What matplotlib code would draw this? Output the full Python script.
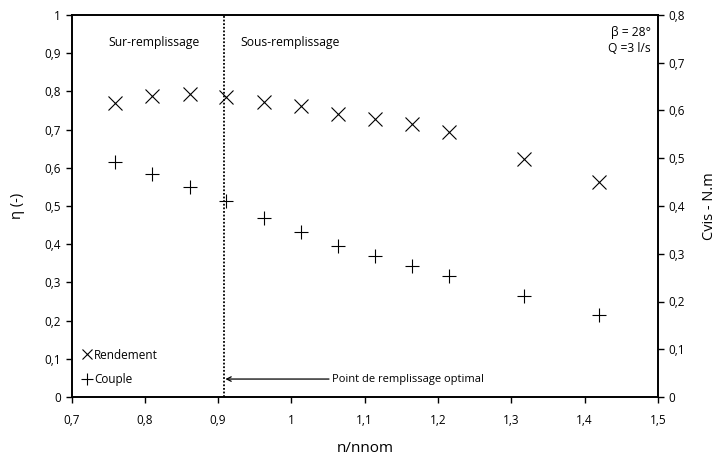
import numpy as np
import matplotlib.pyplot as plt
from matplotlib.ticker import FuncFormatter

plt.rcParams['font.family'] = ['Open Sans', 'DejaVu Sans']

# n/nnom values and measured efficiency / viscous torque
n_ratio = [0.760, 0.810, 0.861, 0.911, 0.963, 1.013, 1.064, 1.114, 1.165, 1.215, 1.317, 1.419]
rendement = [0.770, 0.789, 0.794, 0.785, 0.773, 0.762, 0.741, 0.728, 0.714, 0.694, 0.624, 0.563]
couple = [0.493, 0.468, 0.440, 0.410, 0.375, 0.346, 0.316, 0.295, 0.274, 0.254, 0.211, 0.172]
n_optimal = 0.908

comma = FuncFormatter(lambda v, p: ('%g' % round(v, 2)).replace('.', ','))

fig = plt.figure(figsize=(7.18, 4.59), dpi=100)
ax = fig.add_axes([71.5/718, 1-397/459, (658-71.5)/718, (397-15)/459])
ax2 = ax.twinx()

ax.plot(n_ratio, rendement, ls='none', marker='x', ms=9.5, mew=0.8, color='black')
ax2.plot(n_ratio, couple, ls='none', marker='+', ms=9.5, mew=0.8, color='black')

ax.axvline(n_optimal, color='black', ls=(0, (1, 1)), lw=1.3)

ax.set_xlim(0.7, 1.5)
ax.set_ylim(0, 1)
ax2.set_ylim(0, 0.8)
ax.set_xticks(np.arange(0.7, 1.51, 0.1))
ax.set_yticks(np.arange(0, 1.01, 0.1))
ax2.set_yticks(np.arange(0, 0.81, 0.1))
for a in (ax, ax2):
    a.xaxis.set_major_formatter(comma)
    a.yaxis.set_major_formatter(comma)
    a.tick_params(direction='out', length=4, width=1, labelsize=8.5)
    for s in a.spines.values():
        s.set_linewidth(1.2)
ax.tick_params(axis='x', pad=8)

ax.set_xlabel('n/nnom', fontsize=11, labelpad=10)
ax.set_ylabel('η (-)', fontsize=10.5, labelpad=14)
ax2.set_ylabel('Cvis - N.m', fontsize=10.5, labelpad=12)

ax.text(0.75, 0.92, 'Sur-remplissage', fontsize=8.7)
ax.text(0.93, 0.92, 'Sous-remplissage', fontsize=8.7)
ax.text(0.988, 0.97, 'β = 28°\nQ =3 l/s', transform=ax.transAxes, fontsize=8.7,
        ha='right', va='top', linespacing=1.3)

ax.annotate('Point de remplissage optimal', xy=(n_optimal, 0.047), xytext=(1.055, 0.047),
            fontsize=8, va='center',
            arrowprops=dict(arrowstyle='->', color='black', lw=0.9, shrinkA=0, shrinkB=1))

h1 = plt.Line2D([], [], ls='none', marker='x', ms=7.5, mew=0.8, color='black')
h2 = plt.Line2D([], [], ls='none', marker='+', ms=8, mew=0.8, color='black')
ax2.legend([h1, h2], ['Rendement', 'Couple'], loc='lower left', frameon=False,
           fontsize=8.5, handlelength=0.8, handletextpad=0.2, labelspacing=1.0,
           bbox_to_anchor=(0.0, 0.0), borderaxespad=0.5)

fig.savefig('out.png', dpi=100)
